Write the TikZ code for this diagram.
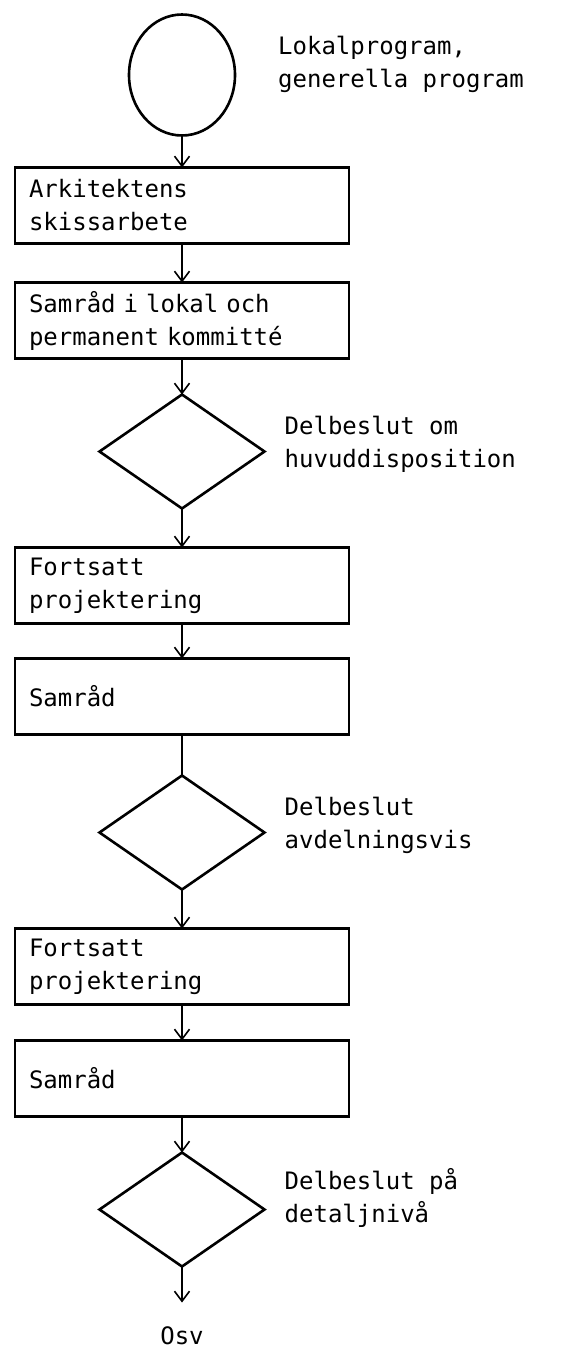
\documentclass[tikz,border=0pt]{standalone}
\usepackage{fontspec}
\setmainfont{DejaVu Sans Mono}
\usepackage{tikz}
\usetikzlibrary{
    shapes.geometric, arrows.meta, positioning
}

\begin{document}
\begin{tikzpicture}[x=1pt, y=1pt]
    % Define styles for the nodes
    \tikzstyle{stepbox} = [
        rectangle, draw, line width=2.6pt, outer sep=0pt,
        minimum width=334pt, minimum height=76pt,
        inner xsep=14pt, text width=306pt, align=left,
        font=\fontsize{24}{33}\selectfont
    ]

    \tikzstyle{decision} = [
        diamond, draw, line width=2.6pt, outer sep=0pt, inner sep=0pt,
        minimum width=165pt, minimum height=114pt
    ]

    \tikzstyle{note} = [
        anchor=west, inner sep=0pt, align=left,
        font=\fontsize{24}{33}\selectfont
    ]

    \tikzstyle{arrow} = [
        line width=1.6pt,
        >={Straight Barb[length=10pt, width=15pt, line width=1.6pt]}
    ]

    \useasboundingbox (0,0) rectangle (587,-1349);

    % Start
    \node[
        ellipse, draw, line width=2.6pt, outer sep=0pt,
        minimum width=106pt, minimum height=121pt
    ] (start) at (182,-75) {};
    \node[note, xshift=43pt, yshift=11pt] (start_note) at (start.east)
        {Lokalprogram,\\generella program};

    % Sketch and consultation
    \node[stepbox, below=32pt of start]   (sketch)  {Arkitektens\\skissarbete};
    \node[stepbox, below=39pt of sketch]  (consult) {Samråd i lokal och\\permanent kommitté};

    % Decision 1
    \node[decision, below=36pt of consult] (dec_a) {};
    \node[note, xshift=20pt, yshift=7pt] (dec_a_note) at (dec_a.east)
        {Delbeslut om\\huvuddisposition};

    % Round 2
    \node[stepbox, below=39pt of dec_a]     (project_a) {Fortsatt\\projektering};
    \node[stepbox, below=35pt of project_a] (consult_a) {Samråd};

    % Decision 2
    \node[decision, below=41pt of consult_a] (dec_b) {};
    \node[note, xshift=20pt, yshift=7pt] (dec_b_note) at (dec_b.east)
        {Delbeslut\\avdelningsvis};

    % Round 3
    \node[stepbox, below=39pt of dec_b]     (project_b) {Fortsatt\\projektering};
    \node[stepbox, below=36pt of project_b] (consult_b) {Samråd};

    % Decision 3
    \node[decision, below=36pt of consult_b] (dec_c) {};
    \node[note, xshift=20pt, yshift=12pt] (dec_c_note) at (dec_c.east)
        {Delbeslut på\\detaljnivå};

    % End
    \coordinate[below=36pt of dec_c] (stop);
    \node[
        below=24pt of stop, inner sep=0pt,
        font=\fontsize{24}{33}\selectfont
    ] (etc) {Osv};

    % Arrows
    \draw[arrow, ->] (start.south) to (sketch.north);
    \draw[arrow, ->] (sketch.south) to (consult.north);
    \draw[arrow, ->] (consult.south) to (dec_a.north);
    \draw[arrow, ->] (dec_a.south) to (project_a.north);
    \draw[arrow, ->] (project_a.south) to (consult_a.north);
    \draw[arrow] (consult_a.south) to (dec_b.north);
    \draw[arrow, ->] (dec_b.south) to (project_b.north);
    \draw[arrow, ->] (project_b.south) to (consult_b.north);
    \draw[arrow, ->] (consult_b.south) to (dec_c.north);
    \draw[arrow, ->] (dec_c.south) to (stop);

\end{tikzpicture}
\end{document}
